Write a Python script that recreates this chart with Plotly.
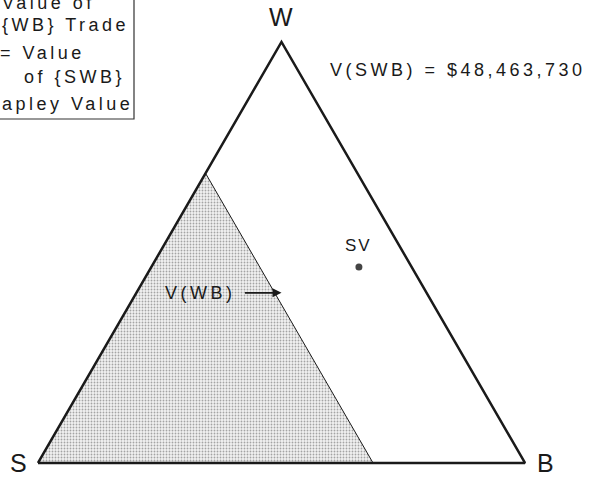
import plotly.graph_objects as go

# Outer triangle S-W-B (unit side, S at origin)
OUTER_X = [0.0, 0.5, 1.0, 0.0]
OUTER_Y = [0.0, 0.866, 0.0, 0.0]
VERTEX_LABELS = ['S', 'W', 'B']
VERTEX_LX = [-0.041, 0.5, 1.043]
VERTEX_LY = [0.0, 0.917, 0.0]

# Value of {WB} trade region (shaded)
WB_X = [0.0, 0.344, 0.688, 0.0]
WB_Y = [0.0, 0.596, 0.0, 0.0]

# Shapley value point
SV_X = [0.659]
SV_Y = [0.403]

V_SWB_TEXT = 'V(SWB) = $48,463,730'

# legend lines, left x in px, centre y in px (box is cropped at the page edge)
LEGEND_LINES = ['Value of', '{WB} Trade', '= Value', 'of {SWB}', 'Shapley Value']
LEGEND_LX = [0, 0, -2, 22, -29]
LEGEND_LY = [3, 25, 53, 77, 104]

W, H = 590, 480
FONT = 'Liberation Sans'
INK = '#1a1a1a'


def spaced(s, sp=3.5):
    return f'<span style="letter-spacing:{sp}px">{s}</span>'


fig = go.Figure()

# shaded region
fig.add_trace(go.Scatter(
    x=WB_X, y=WB_Y, mode='lines', fill='toself',
    fillcolor='rgba(0,0,0,0)',
    fillpattern=dict(shape='.', size=3, solidity=0.3, fgcolor='#555555', bgcolor='#f2f2f2'),
    line=dict(color=INK, width=1), hoverinfo='skip', showlegend=False,
))

# outer triangle
fig.add_trace(go.Scatter(
    x=OUTER_X, y=OUTER_Y, mode='lines',
    line=dict(color=INK, width=2.5), hoverinfo='skip', showlegend=False,
))

# Shapley value
fig.add_trace(go.Scatter(
    x=SV_X, y=SV_Y, mode='markers',
    marker=dict(size=7, color='#444444'), hoverinfo='skip', showlegend=False,
))

for lab, lx, ly in zip(VERTEX_LABELS, VERTEX_LX, VERTEX_LY):
    fig.add_annotation(x=lx, y=ly, text=lab, showarrow=False,
                       font=dict(family=FONT, size=25, color=INK))

fig.add_annotation(x=SV_X[0], y=SV_Y[0] + 0.045, text=spaced('SV', 2), showarrow=False,
                   font=dict(family=FONT, size=17, color=INK))

fig.add_annotation(x=0.5955, y=0.808, text=spaced(V_SWB_TEXT), showarrow=False,
                   xanchor='left', font=dict(family=FONT, size=18, color=INK))

fig.add_annotation(x=0.411, y=0.35, text=spaced('V(WB)'), showarrow=False,
                   xanchor='right', font=dict(family=FONT, size=18, color=INK))
fig.add_annotation(x=0.500, y=0.35, ax=-38, ay=0, text='', showarrow=True,
                   arrowhead=2, arrowsize=1, arrowwidth=1.8, arrowcolor=INK)

# cropped legend box
fig.add_shape(type='rect', xref='paper', yref='paper',
              x0=-0.1, x1=134 / W, y0=1 - 119 / H, y1=1.1,
              line=dict(color='#333333', width=1.2), fillcolor='rgba(0,0,0,0)')
for txt, lx, ly in zip(LEGEND_LINES, LEGEND_LX, LEGEND_LY):
    fig.add_annotation(xref='paper', yref='paper', x=lx / W, y=1 - ly / H,
                       text=spaced(txt), showarrow=False, xanchor='left', yanchor='middle',
                       font=dict(family=FONT, size=18, color=INK))

fig.update_layout(
    width=W, height=H,
    margin=dict(l=0, r=0, t=0, b=0),
    paper_bgcolor='white', plot_bgcolor='white',
    xaxis=dict(range=[-0.078, 1.1335], visible=False, fixedrange=True),
    yaxis=dict(range=[-0.035, 0.9523], visible=False, fixedrange=True),
    showlegend=False,
)

fig.write_html('out.html', config={'displayModeBar': False},
               post_script="document.body.style.margin='0';")
